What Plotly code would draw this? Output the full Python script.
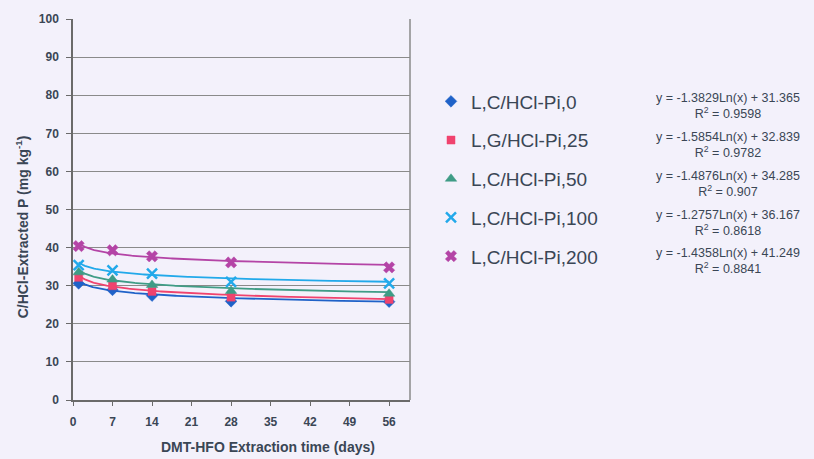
import numpy as np
import plotly.graph_objects as go

# Extraction days and measured C/HCl-extracted P (mg/kg) per treatment
days = [1, 7, 14, 28, 56]
names = ["L,C/HCl-Pi,0", "L,G/HCl-Pi,25", "L,C/HCl-Pi,50", "L,C/HCl-Pi,100", "L,C/HCl-Pi,200"]
p_0 = [30.6, 28.9, 27.4, 25.9, 25.8]
p_25 = [32.2, 30.0, 28.5, 27.0, 26.4]
p_50 = [33.5, 31.6, 30.2, 28.6, 27.9]
p_100 = [35.4, 34.0, 33.2, 31.0, 30.6]
p_200 = [40.4, 39.3, 37.7, 36.1, 34.8]
series = [p_0, p_25, p_50, p_100, p_200]
x_ticks = [0, 7, 14, 21, 28, 35, 42, 49, 56]

# Logarithmic trendline coefficients: y = a*ln(x) + b, with R^2
slopes = [-1.3829, -1.5854, -1.4876, -1.2757, -1.4358]
intercepts = [31.365, 32.839, 34.285, 36.167, 41.249]
r2 = ["0.9598", "0.9782", "0.907", "0.8618", "0.8841"]

colors = ["#1f62c8", "#f0436e", "#3f9c86", "#22a9ea", "#b444a6"]
symbols = ["diamond", "square", "triangle-up", "x-thin", "x"]
sizes = [9, 8, 10, 10, 10]

FONT = "Liberation Sans, Arial"
TEXT = "#3a4655"
W, H = 814, 459
L, R, T, B = 73, 404, 16, 59
pw, ph = W - L - R, H - T - B


def px_x(px):
    return (px - L) / pw


def px_y(py):
    return 1 - (py - T) / ph


fig = go.Figure()

xs = np.linspace(1, 56, 200)
for i in range(5):
    fig.add_trace(go.Scatter(
        x=xs, y=slopes[i] * np.log(xs) + intercepts[i], mode="lines",
        line=dict(color=colors[i], width=1.8), showlegend=False, hoverinfo="skip"))

for i in range(5):
    marker = dict(color=colors[i], symbol=symbols[i], size=sizes[i])
    if symbols[i] == "x-thin":
        marker["line"] = dict(color=colors[i], width=2.5)
    else:
        marker["line"] = dict(color=colors[i], width=0.5)
    fig.add_trace(go.Scatter(
        x=days, y=series[i], mode="markers", name=names[i],
        marker=marker, legendgroup=str(i)))

# Trendline equations beside the legend entries
eq_tops = [87, 126, 165, 204, 243]
for i in range(5):
    fig.add_annotation(
        x=px_x(728), y=px_y(eq_tops[i]), xref="paper", yref="paper",
        text=f"y = {slopes[i]:.4f}Ln(x) + {intercepts[i]:.3f}<br>R<sup>2</sup> = {r2[i]}",
        showarrow=False, align="center", xanchor="center", yanchor="top",
        font=dict(family=FONT, size=12.5, color=TEXT))

# Axis titles
fig.add_annotation(
    x=px_x(268), y=px_y(447), xref="paper", yref="paper", showarrow=False,
    text="<b>DMT-HFO Extraction time (days)</b>", xanchor="center", yanchor="middle",
    font=dict(family=FONT, size=14, color=TEXT))
fig.add_annotation(
    x=px_x(22), y=px_y(226), xref="paper", yref="paper", showarrow=False, textangle=-90,
    text="<b>C/HCl-Extracted P (mg kg<sup>-1</sup>)</b>", xanchor="center", yanchor="middle",
    font=dict(family=FONT, size=14, color=TEXT))

fig.update_layout(
    width=W, height=H,
    margin=dict(l=L, r=R, t=T, b=B),
    paper_bgcolor="#f3f1fb", plot_bgcolor="#f3f1fb",
    font=dict(family=FONT, color=TEXT),
    legend=dict(
        x=px_x(431), y=px_y(80), xanchor="left", yanchor="top",
        font=dict(size=19, color=TEXT, family=FONT), bgcolor="rgba(0,0,0,0)",
        tracegroupgap=11, itemwidth=30),
    xaxis=dict(
        range=[0, 59.7], tickvals=x_ticks,
        showgrid=False, zeroline=False, showline=True, linecolor="#6a6a6a", linewidth=1.5,
        ticks="outside", ticklen=4, tickcolor="#6a6a6a", ticklabelstandoff=6,
        tickfont=dict(size=12, color=TEXT, family=FONT, weight="bold")),
    yaxis=dict(
        range=[0, 100], dtick=10, showgrid=True, gridcolor="#8a8a8a", gridwidth=1,
        zeroline=False, showline=True, linecolor="#6a6a6a", linewidth=1.5,
        ticks="outside", ticklen=5, tickcolor="#6a6a6a", ticklabelstandoff=5,
        tickfont=dict(size=12, color=TEXT, family=FONT, weight="bold")),
)

# right-hand frame edge of the plot area
fig.add_shape(type="line", xref="paper", yref="paper", x0=1, x1=1, y0=0, y1=1,
              line=dict(color="#8a8a8a", width=1.5))

fig.write_html("out.html")
